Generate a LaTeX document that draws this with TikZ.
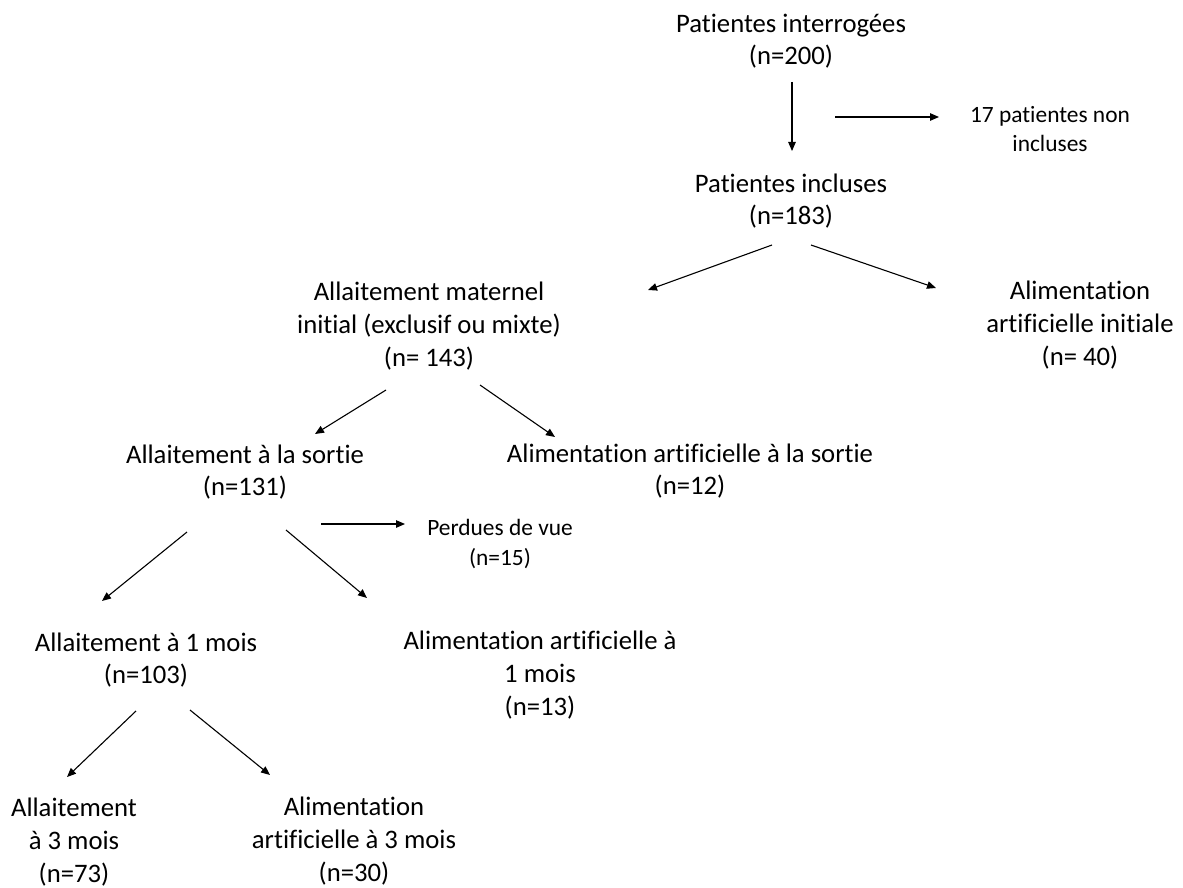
\documentclass[tikz,border=0pt]{standalone}
\usepackage{fontspec}
\setmainfont{Carlito}[Ligatures={NoCommon}]
\usetikzlibrary{arrows.meta}
\begin{document}
\begin{tikzpicture}[x=1pt,y=-1pt,
  box/.style={align=center,inner sep=0pt,font=\fontsize{26.7}{32.6}\selectfont},
  smallbox/.style={align=center,inner sep=0pt,font=\fontsize{23.4}{29.5}\selectfont},
  flow/.style={line width=1.1pt,-{Triangle[length=9pt,width=7.5pt]}}]
\fill[white] (0,0) rectangle (1183,888);
\useasboundingbox (0,0) rectangle (1183,888);

% text blocks
\node[box] (top) at (791,41) {Patientes interrogées\\(n=200)};
\node[smallbox] (excl) at (1050,129) {17 patientes non\\incluses};
\node[box] (incl) at (791,201) {Patientes incluses\\(n=183)};
\node[box] (mat) at (429,326) {Allaitement maternel\\initial (exclusif ou mixte)\\(n= 143)};
\node[box] (artinit) at (1080,325) {Alimentation\\artificielle initiale\\(n= 40)};
\node[box] (sortie) at (245,472) {Allaitement à la sortie\\(n=131)};
\node[box] (artsortie) at (690,471) {Alimentation artificielle à la sortie\\(n=12)};
\node[smallbox] (perdues) at (500,544) {Perdues de vue\\(n=15)};
\node[box] (mois1) at (146,660) {Allaitement à 1 mois\\(n=103)};
\node[box] (art1) at (540,675) {Alimentation artificielle à\\1 mois\\(n=13)};
\node[box] (mois3) at (74,842) {Allaitement\\à 3 mois\\(n=73)};
\node[box] (art3) at (354,841) {Alimentation\\artificielle à 3 mois\\(n=30)};

% arrow end points
\coordinate (a1s) at (792,82);  \coordinate (a1e) at (792,151);
\coordinate (a2s) at (835,117); \coordinate (a2e) at (939,117);
\coordinate (a3s) at (772,245); \coordinate (a3e) at (648,290);
\coordinate (a4s) at (811,245); \coordinate (a4e) at (936,288);
\coordinate (a5s) at (386,390); \coordinate (a5e) at (315,434);
\coordinate (a6s) at (480,385); \coordinate (a6e) at (555,437);
\coordinate (a7s) at (321,524); \coordinate (a7e) at (405,524);
\coordinate (a8s) at (187,532); \coordinate (a8e) at (102,601);
\coordinate (a9s) at (286,530); \coordinate (a9e) at (367,598);
\coordinate (a10s) at (136,711); \coordinate (a10e) at (67,777);
\coordinate (a11s) at (190,710); \coordinate (a11e) at (270,775);

\draw[flow] (a1s) -- (a1e);
\draw[flow] (a2s) -- (a2e);
\draw[flow] (a3s) -- (a3e);
\draw[flow] (a4s) -- (a4e);
\draw[flow] (a5s) -- (a5e);
\draw[flow] (a6s) -- (a6e);
\draw[flow] (a7s) -- (a7e);
\draw[flow] (a8s) -- (a8e);
\draw[flow] (a9s) -- (a9e);
\draw[flow] (a10s) -- (a10e);
\draw[flow] (a11s) -- (a11e);
\end{tikzpicture}
\end{document}
